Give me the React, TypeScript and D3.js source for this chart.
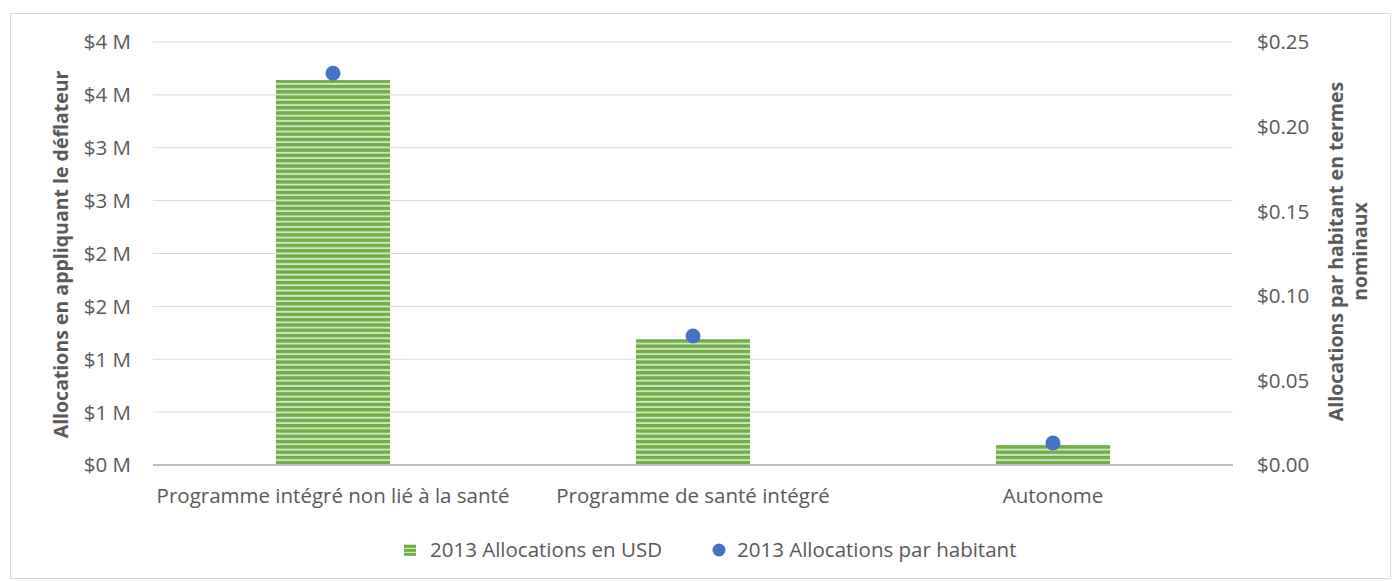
import React from "react";
import * as d3 from "d3";

const categories = ["Programme intégré non lié à la santé", "Programme de santé intégré", "Autonome"];
const allocationsUSD = [3.64, 1.19, 0.19]; // millions
const allocationsPerCapita = [0.2315, 0.0762, 0.013];
const leftTicks = [0, 0.5, 1, 1.5, 2, 2.5, 3, 3.5, 4];
const rightTicks = [0, 0.05, 0.1, 0.15, 0.2, 0.25];
const seriesNames = ["2013 Allocations en USD", "2013 Allocations par habitant"];

const W = 1400, H = 581;
const left = 153, right = 1233, top = 42, bottom = 465;
const font = "'Open Sans', sans-serif";
const textColor = "#595959";
const fs = 20.5;

export default function App() {
  const x = d3.scaleBand<string>().domain(categories).range([left, right]).paddingInner(0.683).paddingOuter(0.3415);
  const yL = d3.scaleLinear().domain([0, 4]).range([bottom, top]);
  const yR = d3.scaleLinear().domain([0, 0.25]).range([bottom, top]);
  const fmtL = (v: number) => `$${Math.floor(v + 0.5)} M`;
  const fmtR = d3.format("$.2f");
  return (
    <svg width={W} height={H} style={{ position: "absolute", left: 0, top: 0, background: "#fff" }}>
      <defs>
        <pattern id="stripes" width="8" height="5.3" patternUnits="userSpaceOnUse">
          <rect width="8" height="5.3" fill="#70ad47" />
          <rect y="3.4" width="8" height="1.9" fill="#cfe6c1" />
        </pattern>
        <pattern id="stripesLeg" width="8" height="4" patternUnits="userSpaceOnUse" y="545">
          <rect width="8" height="4" fill="#70ad47" />
          <rect y="2.8" width="8" height="1.2" fill="#cfe6c1" />
        </pattern>
      </defs>
      <rect x={10.5} y={13.5} width={1380} height={565} fill="#fff" stroke="#d9d9d9" />
      {leftTicks.map((t) => (
        <g key={"l" + t}>
          {t > 0 && <line x1={left} x2={right} y1={yL(t)} y2={yL(t)} stroke="#d9d9d9" strokeWidth={1} />}
          <text x={131} y={yL(t)} dy="0.36em" textAnchor="end" fontFamily={font} fontSize={fs} fill={textColor}>
            {fmtL(t)}
          </text>
        </g>
      ))}
      {rightTicks.map((t) => (
        <text key={"r" + t} x={1257} y={yR(t)} dy="0.36em" textAnchor="start" fontFamily={font} fontSize={fs} fill={textColor}>
          {fmtR(t)}
        </text>
      ))}
      {categories.map((c, i) => (
        <rect key={"b" + c} x={x(c)} y={yL(allocationsUSD[i])} width={x.bandwidth()} height={bottom - yL(allocationsUSD[i])} fill="url(#stripes)" />
      ))}
      <line x1={left} x2={right} y1={bottom} y2={bottom} stroke="#bfbfbf" strokeWidth={2} />
      {categories.map((c, i) => (
        <circle key={"d" + c} cx={x(c)! + x.bandwidth() / 2} cy={yR(allocationsPerCapita[i])} r={7.5} fill="#4472c4" />
      ))}
      {categories.map((c) => (
        <text key={"x" + c} x={x(c)! + x.bandwidth() / 2} y={503} textAnchor="middle" fontFamily={font} fontSize={fs} fill={textColor}>
          {c}
        </text>
      ))}
      <text transform={`translate(68,${(top + bottom) / 2 + 1}) rotate(-90)`} textAnchor="middle" fontFamily={font} fontSize={19.5} fontWeight="bold" fill={textColor}>
        Allocations en appliquant le déflateur
      </text>
      <text transform={`translate(1343,${(top + bottom) / 2 - 2}) rotate(-90)`} textAnchor="middle" fontFamily={font} fontSize={19.5} fontWeight="bold" fill={textColor}>
        <tspan x={0} dy={0}>Allocations par habitant en termes</tspan>
        <tspan x={0} dy={24}>nominaux</tspan>
      </text>
      <rect x={404} y={544} width={12} height={12} fill="url(#stripesLeg)" />
      <text x={430} y={550} dy="0.36em" fontFamily={font} fontSize={fs} fill={textColor}>{seriesNames[0]}</text>
      <circle cx={719} cy={550} r={6.5} fill="#4472c4" />
      <text x={737} y={550} dy="0.36em" fontFamily={font} fontSize={fs} fill={textColor}>{seriesNames[1]}</text>
    </svg>
  );
}
